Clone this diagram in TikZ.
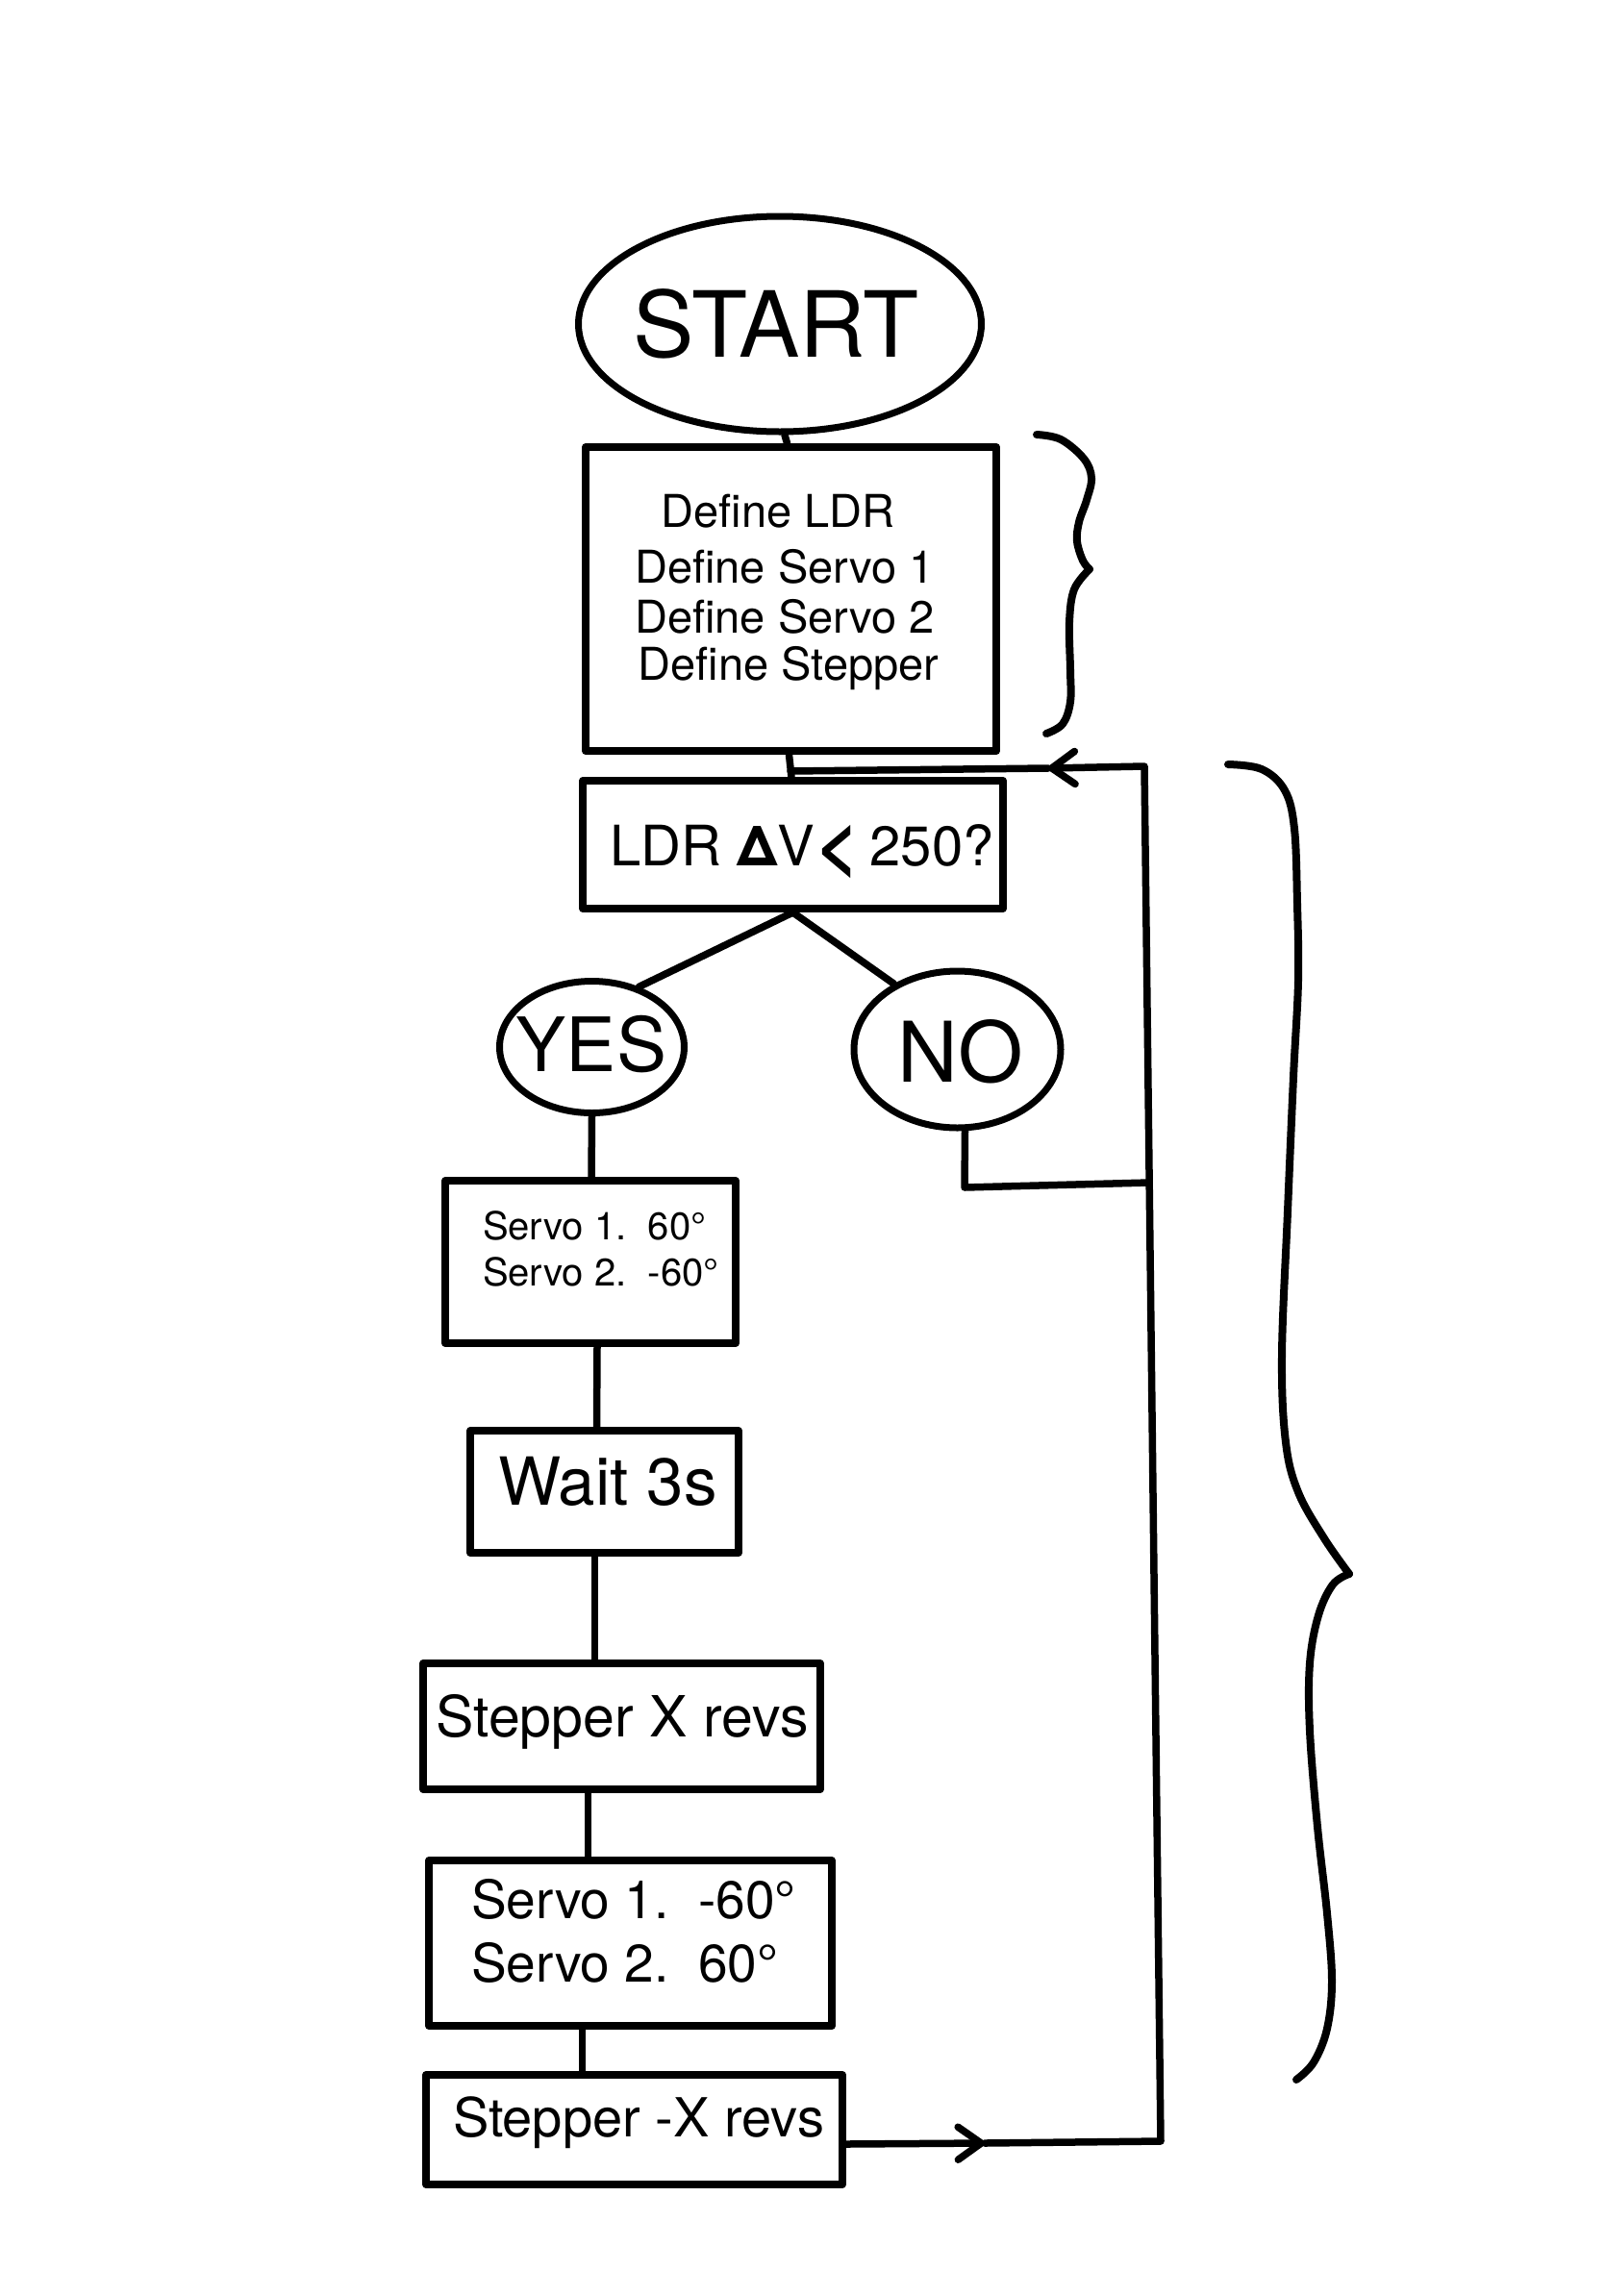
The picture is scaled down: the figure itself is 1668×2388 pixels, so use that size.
\documentclass[tikz,border=0pt]{standalone}
\usepackage{fontspec}
\setmainfont{TeX Gyre Heros}
\usetikzlibrary{shapes.geometric,arrows.meta,calc}
\begin{document}
\begin{tikzpicture}[x=1pt,y=-1pt,
  box/.style={draw, rectangle, line width=8pt, inner sep=0pt, line join=round},
  oval/.style={draw, ellipse, line width=7pt, inner sep=0pt},
  txt/.style={inner sep=0pt, outer sep=0pt},
  conn/.style={line width=7.5pt, line cap=round, line join=round},
  barb/.style={-{Straight Barb[length=24pt,width=34pt,line width=7.5pt,round]}},
  brace/.style={line width=8pt, line cap=round, line join=round},
]
\fill[white] (0,0) rectangle (1668,2388);
\useasboundingbox (0,0) rectangle (1668,2388);

% shapes
\node[oval, minimum width=419pt, minimum height=224pt] (start) at (811,337) {};
\node[box, minimum width=427pt, minimum height=316pt] (define) at (822.5,623) {};
\node[box, minimum width=437pt, minimum height=133pt] (ldr) at (824.5,878.5) {};
\node[oval, minimum width=192pt, minimum height=137pt] (yes) at (615.5,1089) {};
\node[oval, minimum width=215pt, minimum height=163pt] (no) at (995.5,1091.5) {};
\node[box, minimum width=302pt, minimum height=169pt] (s1) at (614,1312.5) {};
\node[box, minimum width=279pt, minimum height=127pt] (wait) at (628.5,1551.5) {};
\node[box, minimum width=413pt, minimum height=131pt] (stp) at (646.5,1795.5) {};
\node[box, minimum width=419pt, minimum height=172pt] (s2) at (655.5,2021) {};
\node[box, minimum width=433pt, minimum height=114pt] (stpb) at (659.5,2215) {};

% texts
\node[txt, anchor=base, font=\fontsize{95}{100}\selectfont] (startt) at (807,371) {START};
\node[txt, anchor=north, align=center, font=\fontsize{47}{52}\selectfont] (definet) at (816,514)
  {\hspace*{-14pt}Define LDR\\[6pt] Define Servo 1\\ Define Servo 2\\[-3pt] \hspace*{8pt}Define Stepper};
\node[txt, anchor=base west, font=\fontsize{58}{62}\selectfont] (ldrt) at (634,900)
  {LDR {\bfseries Δ}V\kern1pt\raisebox{-5pt}{\fontsize{78}{60}\selectfont\bfseries <}\hspace{11pt}250?};
\node[txt, anchor=base, font=\fontsize{78}{80}\selectfont] (yest) at (615,1114) {YES};
\node[txt, anchor=base, font=\fontsize{87}{90}\selectfont] (not) at (999,1125) {NO};
\node[txt, anchor=north west, align=left, font=\fontsize{40}{48}\selectfont] (s1t) at (502,1260)
  {Servo 1.\ \ 60°\\ Servo 2.\ \ -60°};
\node[txt, anchor=base, font=\fontsize{69}{72}\selectfont] (waitt) at (632,1565) {Wait 3s};
\node[txt, anchor=base, font=\fontsize{59}{62}\selectfont] (stpt) at (647,1806) {Stepper X revs};
\node[txt, anchor=north west, align=left, font=\fontsize{55}{66}\selectfont] (s2t) at (490,1954)
  {Servo 1.\ \ -60°\\ Servo 2.\ \ 60°};
\node[txt, anchor=base west, font=\fontsize{56}{60}\selectfont] (stpbt) at (471,2222) {Stepper -X revs};

% loop coordinates
\coordinate (tr) at (1190,797);
\coordinate (br) at (1207,2227);
\coordinate (jt) at (822,802);
\coordinate (ah1) at (1090,799);
\coordinate (ah2) at (1024,2229);
\coordinate (nj) at (1195,1230);
\coordinate (nc) at (1003,1235);

% connectors
\draw[conn] ([xshift=5pt]start.south) -- ([xshift=-4pt]define.north);
\draw[conn] ([xshift=-2pt]define.south) -- ([xshift=-1.5pt]ldr.north);
\draw[conn] (ldr.south) -- (yes.52);
\draw[conn] (ldr.south) -- (no.134);
\draw[conn] (yes.south) -- ([xshift=1pt]s1.north);
\draw[conn] ([xshift=7pt]s1.south) -- ([xshift=-8pt]wait.north);
\draw[conn] ([xshift=-10pt]wait.south) -- ([xshift=-28pt]stp.north);
\draw[conn] ([xshift=-35pt]stp.south) -- ([xshift=-44pt]s2.north);
\draw[conn] ([xshift=-50pt]s2.south) -- ([xshift=-54pt]stpb.north);
\draw[conn, barb] ([yshift=-15pt]stpb.east) -- (ah2);
\draw[conn, barb] (ah2) -- (br) -- (tr) -- (ah1);
\draw[conn] (ah1) -- (jt);
\draw[conn] ([xshift=8pt]no.south) -- (nc) -- (nj);

% braces
\draw[brace] plot[smooth, tension=0.6] coordinates {(1078,452) (1103,457) (1127,477) (1135,497) (1130,520) (1122,543) (1120,563) (1126,583) (1133,592)};
\draw[brace] plot[smooth, tension=0.6] coordinates {(1133,592) (1117,613) (1112,647) (1113,697) (1113,730) (1105,753) (1088,763)};
\draw[brace] plot[smooth, tension=0.6] coordinates {(1277,795) (1312,800) (1336,822) (1346,862) (1349,940) (1350,1020) (1345,1120) (1339,1260) (1333,1410) (1337,1500) (1350,1552) (1377,1600) (1403,1637)};
\draw[brace] plot[smooth, tension=0.6] coordinates {(1403,1637) (1386,1648) (1371,1680) (1362,1730) (1362,1800) (1370,1900) (1380,1990) (1385,2060) (1380,2110) (1366,2145) (1348,2163)};
\end{tikzpicture}
\end{document}
